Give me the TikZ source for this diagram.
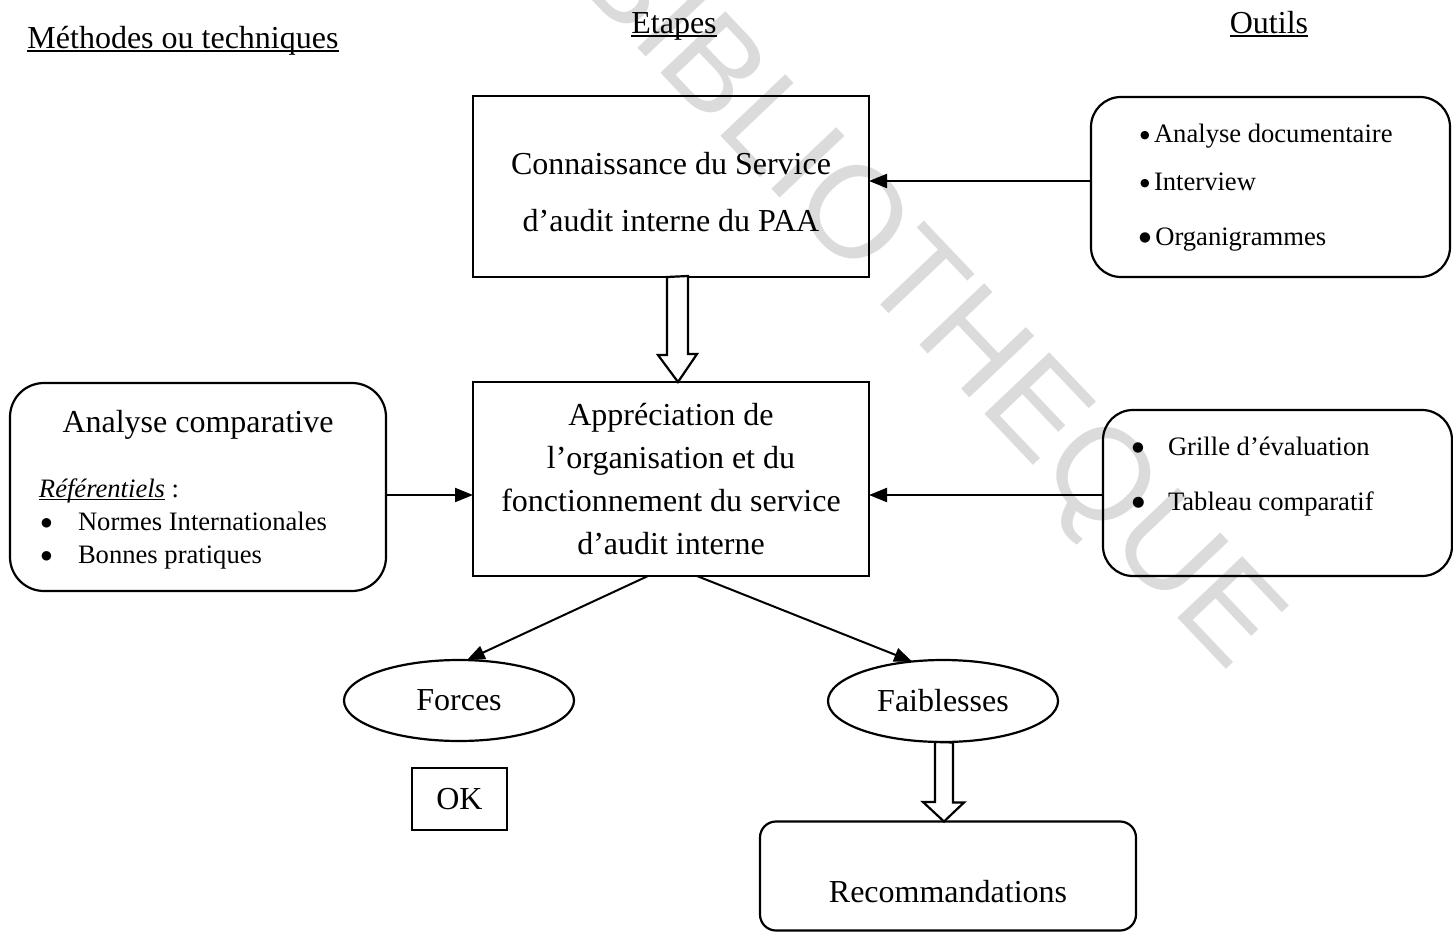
\documentclass[tikz,border=0pt]{standalone}
\usepackage{fontspec}
\setmainfont{Liberation Serif}
\newfontfamily\wmfont{Liberation Sans}
\newfontfamily\symfont{DejaVu Sans}
\usetikzlibrary{arrows.meta,calc,shapes.geometric}
\newcommand\myul[1]{\setbox0\hbox{#1}\rlap{\rule[-0.13em]{\wd0}{0.055em}}\box0\relax}
\newcommand\fL{\fontsize{16}{19}\selectfont}
\newcommand\fS{\fontsize{13.3}{16}\selectfont}
\newcommand\bul[1]{\raisebox{2pt}{\symfont\fontsize{#1}{#1}\selectfont ●}}
\begin{document}
\begin{tikzpicture}[x=0.5pt,y=-0.5pt,
  box/.style={draw, line width=1.1pt, inner sep=0pt, outer sep=0pt},
  rbox/.style={box, rounded corners=#1},
  ellbox/.style={box, ellipse},
  txt/.style={inner sep=0pt, outer sep=0pt},
  conn/.style={line width=1pt, -{Triangle[length=9pt,width=7pt]}},
  hollow/.style={draw, line width=1.1pt, fill=white, line join=miter},
  wm/.style={txt, text=black!14, font=\wmfont\fontsize{65}{65}\selectfont}]
\useasboundingbox (0,0) rectangle (1453,932);
% watermark
\node[wm, rotate=-46.5] (wmark) at (924,302) {BIBLIOTHEQUE};
% helper coordinates
\coordinate (y181) at (0,181);
\coordinate (y495) at (0,495);
% headers
\node[txt, anchor=base, font=\fL] (hm) at (183,48) {\myul{Méthodes ou techniques}};
\node[txt, anchor=base, font=\fL] (he) at (674,33) {\myul{Etapes}};
\node[txt, anchor=base, font=\fL] (ho) at (1269,33) {\myul{Outils}};
% central steps
\node[box, minimum width=198pt, minimum height=90.5pt] (top) at (671,186.5) {};
\node[txt, align=center, font=\fontsize{16}{28.5}\selectfont] (topt) at (671,192)
      {Connaissance du Service\\d’audit interne du PAA};
\node[box, minimum width=198pt, minimum height=97pt, align=center,
      font=\fontsize{16}{21.5}\selectfont] (mid) at (671,479)
      {Appréciation de\\l’organisation et du\\fonctionnement du service\\d’audit interne};
% tools box 1
\node[rbox=15pt, minimum width=179.5pt, minimum height=90pt] (o1) at (1270.5,187) {};
\node[txt, anchor=base west, font=\fS] (o1a) at (1140,142) {\bul{5.5}\,Analyse documentaire};
\node[txt, anchor=base west, font=\fS] (o1b) at (1140,190) {\bul{5.5}\,Interview};
\node[txt, anchor=base west, font=\fS] (o1c) at (1139,245) {\bul{6.8}\,Organigrammes};
% tools box 2
\node[rbox=15pt, minimum width=174.5pt, minimum height=83pt] (o2) at (1277.5,493) {};
\node[txt, anchor=base west, font=\fS] (o2a) at (1132,455) {\bul{6.8}};
\node[txt, anchor=base west, font=\fS] (o2at) at (1168,455) {Grille d’évaluation};
\node[txt, anchor=base west, font=\fS] (o2b) at (1132,510) {\bul{7.2}};
\node[txt, anchor=base west, font=\fS] (o2bt) at (1168,510) {Tableau comparatif};
% methods box
\node[rbox=17pt, minimum width=188pt, minimum height=104pt] (left) at (198,487) {};
\node[txt, anchor=base, font=\fL] (la) at (198,432) {Analyse comparative};
\node[txt, anchor=base west, font=\fS] (lb) at (39,497) {\myul{\itshape Référentiels} :};
\node[txt, anchor=base west, font=\fS] (lc) at (41,530) {\bul{6.2}};
\node[txt, anchor=base west, font=\fS] (lct) at (78,530) {Normes Internationales};
\node[txt, anchor=base west, font=\fS] (ld) at (41,563) {\bul{6.2}};
\node[txt, anchor=base west, font=\fS] (ldt) at (78,563) {Bonnes pratiques};
% results
\node[ellbox, minimum width=115pt, minimum height=40.5pt, font=\fL] (forces) at (459,700.5) {Forces};
\node[ellbox, minimum width=115pt, minimum height=41pt, font=\fL] (faib) at (943,701) {Faiblesses};
\node[box, minimum width=47.5pt, minimum height=31pt, font=\fL] (ok) at (459.5,799) {OK};
\node[rbox=8pt, minimum width=188pt, minimum height=54.5pt] (rec) at (948,876) {};
\node[txt, anchor=base, font=\fL] (rect) at (948,902) {Recommandations};
% connectors
\draw[conn] (o1.west |- y181) -- (top.east |- y181);
\draw[conn] (left.east |- y495) -- (mid.west |- y495);
\draw[conn] (o2.west |- y495) -- (mid.east |- y495);
\draw[conn] ($(mid.south)+(-23,0)$) -- (forces.79);
\draw[conn] ($(mid.south)+(26,0)$) -- (faib.128);
% block arrows
\draw[hollow] ($(top.south)+(-4,0)$) -- ++(0,78) -- ++(-9,0) -- ($(mid.north)+(7,0)$)
   -- ++(19,-28) -- ++(-9,0) -- ++(0,-78) -- cycle;
\draw[hollow] ($(faib.south)+(-8,0)$) -- ++(0,60) -- ++(-12,0) -- ($(rec.north)+(-4,0)$)
   -- ++(20,-19) -- ++(-11,0) -- ++(0,-60) -- cycle;
\end{tikzpicture}
\end{document}
